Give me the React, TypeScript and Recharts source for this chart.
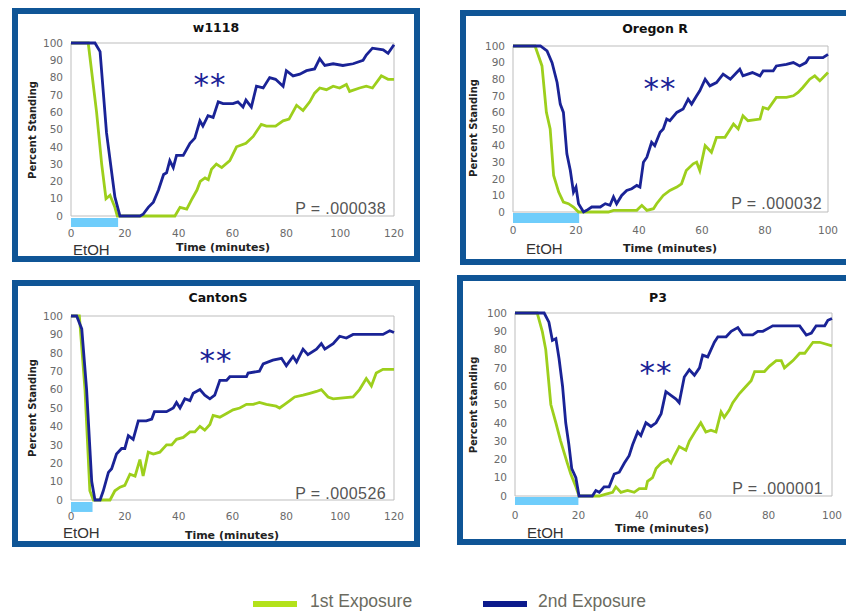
import React from 'react'
import { LineChart, Line, XAxis, YAxis, ReferenceArea } from 'recharts'

// [minutes, percent standing]
const w1118First: [number, number][] = [
  [0, 100], [6.4, 100], [9.5, 60], [11.4, 30], [13, 10], [14.5, 12], [16.3, 5], [17.2, 0], [38.6, 0], [40.5, 5],
  [43, 4], [45, 10], [46.8, 15], [48, 20], [49.8, 22], [51, 21], [52.2, 27], [54, 30], [56, 28], [59, 32],
  [61.5, 40], [65, 42], [67.7, 46], [70.7, 53], [72.6, 52], [76, 52], [78.8, 55], [81, 56], [83.8, 64], [86.2, 61],
  [88.7, 66], [90.5, 71], [92.4, 74], [94.9, 73], [97.4, 75], [99.8, 74], [102.3, 76], [103.5, 72], [107.2, 74],
  [109.7, 75], [112, 74], [115.3, 81], [117.8, 79], [120, 79],
]
const w1118Second: [number, number][] = [
  [0, 100], [8.9, 100], [10.8, 95], [13.2, 48], [16.3, 11], [18.2, 0], [25.6, 0], [26.8, 1], [28.7, 5], [30.6, 8],
  [32.5, 15], [34.4, 24], [35.5, 25], [36.7, 32], [38, 28], [39.2, 35], [41.7, 35], [44.2, 42], [46, 45], [47.9, 55],
  [49, 52], [50.9, 58], [52.8, 57], [54.7, 66], [56.5, 65], [60.2, 65], [62, 66], [63.9, 63], [65, 67], [67, 63],
  [68.9, 75], [71.4, 74], [73.8, 80], [76, 79], [78.8, 75], [80, 84], [82.5, 81], [85, 82], [87.5, 84], [90.5, 85],
  [92.4, 91], [94.3, 87], [97.4, 88], [101, 87], [104.8, 88], [108.5, 90], [109.7, 93], [112, 97], [116, 96],
  [117.8, 94], [120, 99],
]

const oregonFirst: [number, number][] = [
  [0, 100], [7, 100], [9.2, 88], [10.6, 60], [11.8, 50], [12.9, 22], [14.5, 12], [16, 6], [17.6, 5], [19.2, 3],
  [20.8, 0], [30.3, 0], [31.9, 1], [34, 1], [39.3, 1], [40.9, 4], [42.5, 1], [44.6, 2], [45.6, 5], [47.7, 10],
  [49.8, 13], [52, 15], [53.5, 17], [55, 25], [57.2, 29], [58.3, 30], [59.3, 25], [61, 40], [63, 36], [64.6, 45],
  [67.3, 45], [69, 50], [70, 53], [71.5, 50], [73, 58], [74.6, 55], [78.4, 56], [79.4, 63], [81, 62], [83.6, 69],
  [86.8, 69], [89, 70], [90.5, 72], [92, 75], [94.2, 80], [95.8, 82], [97.4, 79], [100, 84],
]
const oregonSecond: [number, number][] = [
  [0, 100], [8.7, 100], [10.8, 97], [12.4, 90], [14, 78], [15, 65], [16, 60], [17.1, 35], [18.2, 25], [19.2, 12],
  [20, 15], [20.8, 5], [22.4, 0], [23.4, 1], [25, 3], [27.7, 3], [29.3, 5], [30.8, 4], [31.9, 9], [32.9, 5],
  [34.5, 10], [36.1, 13], [37.7, 14], [39.3, 16], [40.3, 15], [41.4, 30], [42.5, 33], [44, 42], [45, 40],
  [46.7, 48], [47.7, 50], [48.8, 56], [49.8, 55], [52, 60], [54, 62], [55.6, 68], [56.7, 65], [58.3, 70],
  [59.3, 73], [61, 80], [62.5, 76], [64.6, 78], [66.7, 83], [69, 80], [72, 86], [73, 82], [76, 84], [78.4, 82],
  [79.4, 85], [82.6, 85], [83.6, 88], [86.8, 89], [89, 90], [91, 88], [93, 90], [94, 93], [98.4, 93], [100, 95],
]

const cantonFirst: [number, number][] = [
  [0, 100], [3.1, 100], [5.2, 60], [7, 5], [8.3, 0], [14.5, 0], [16.3, 5], [18.2, 7], [20, 8], [21.9, 14],
  [23.8, 13], [25.6, 22], [26.8, 13], [28.7, 26], [30.6, 25], [33, 26], [35.5, 30], [37.4, 30], [39.2, 33],
  [41.7, 34], [44.2, 37], [46, 37], [47.9, 40], [49.7, 38], [51.6, 41], [52.8, 46], [55.3, 45], [57.8, 47],
  [60.2, 49], [62.7, 50], [65.2, 52], [67.7, 52], [70, 53], [72.6, 52], [76.2, 51], [77.5, 50], [79.4, 52],
  [81.3, 54], [83.1, 56], [86.2, 57], [88.7, 58], [91.2, 59], [93, 60], [95.5, 56], [97.4, 55], [104.8, 56],
  [107.2, 60], [109.7, 66], [111.6, 62], [113.4, 69], [115.9, 71], [120, 71],
]
const cantonSecond: [number, number][] = [
  [0, 100], [2.1, 100], [4, 93], [5.8, 60], [7.7, 10], [8.9, 0], [10.8, 0], [12, 5], [13.9, 15], [15.1, 17],
  [16.9, 25], [18.8, 28], [20, 28], [21.3, 35], [23.1, 33], [25, 43], [28, 43], [30, 44], [31, 48], [33, 48],
  [35.5, 48], [38, 50], [39.2, 53], [40.5, 50], [42.3, 55], [44.2, 54], [45.4, 58], [47.9, 60], [49.7, 57],
  [51.6, 55], [53.4, 57], [55.3, 65], [57.8, 65], [59, 67], [65.2, 67], [65.8, 69], [70, 70], [71.4, 74],
  [75, 76], [78.2, 77], [80, 73], [82.5, 78], [83.8, 75], [86.2, 82], [88, 79], [91.2, 82], [93, 85], [94.3, 82],
  [97.4, 85], [99.8, 89], [102.3, 88], [104.8, 90], [115.9, 90], [118.4, 92], [120, 91],
]

const p3First: [number, number][] = [
  [0, 100], [7, 100], [8.6, 90], [9.7, 80], [11.3, 50], [12.9, 40], [14.4, 30], [16.5, 18], [17.6, 12],
  [19.2, 5], [20.2, 0], [26.6, 0], [28.7, 1], [30.8, 2], [31.8, 5], [33.4, 2], [35.5, 3], [37.6, 2], [39.2, 4],
  [41.3, 4], [41.8, 8], [43.4, 10], [44.5, 15], [46.1, 18], [48.2, 20], [49.2, 18], [50.3, 22], [51.8, 27],
  [53.9, 25], [55, 30], [57.1, 36], [58.6, 40], [60.2, 35], [61.8, 36], [63.4, 35], [65, 46], [66, 43],
  [67.6, 47], [68.7, 51], [70.8, 56], [72.9, 60], [74.5, 63], [75.6, 68], [78.7, 68], [80.3, 71], [82.4, 74],
  [84, 74], [85, 70], [87.7, 74], [89.8, 78], [91.4, 78], [94, 84], [96.1, 84], [100, 82],
]
const p3Second: [number, number][] = [
  [0, 100], [9.2, 100], [10.7, 95], [11.8, 85], [12.9, 86], [13.9, 75], [15, 60], [16, 40], [17, 28], [17.9, 15],
  [19.2, 10], [20.2, 0], [24.4, 0], [25.5, 3], [26.6, 2], [28.1, 5], [29.7, 5], [31.3, 12], [32.9, 13],
  [34.5, 18], [36, 22], [37.1, 28], [38.7, 35], [39.7, 33], [41.3, 40], [42.9, 38], [44.5, 40], [46.1, 45],
  [47.6, 57], [49.2, 55], [50.8, 53], [51.8, 51], [53.4, 65], [55, 69], [56.6, 66], [58.2, 70], [59.2, 77],
  [60.8, 76], [62.9, 84], [64, 87], [66.6, 87], [68.2, 90], [70.3, 92], [71.9, 88], [75, 88], [76.6, 90],
  [78.2, 90], [80.3, 92], [81.3, 93], [89.8, 93], [91.9, 88], [93.5, 89], [95, 93], [97.7, 93], [98.7, 96],
  [100, 97],
]

const etohEnds = [17.5, 21, 8, 20]
const pValues = ['P = .000038', 'P = .000032', 'P = .000526', 'P = .000001']
const titles = ['w1118', 'Oregon R', 'CantonS', 'P3']
const yTicks = [0, 10, 20, 30, 40, 50, 60, 70, 80, 90, 100]
const xTicks120 = [0, 20, 40, 60, 80, 100, 120]
const xTicks100 = [0, 20, 40, 60, 80, 100]

const GREEN = '#9dcf1c'
const BLUE = '#1a2396'
const FRAME = '#0f5596'
const BAR = '#6fcdfb'
const YW = 40
const XH = 30

const toPts = (arr: [number, number][]) => arr.map(([t, v]) => ({ t, v }))

const panels = [
  {
    first: w1118First, second: w1118Second, xMax: 120, xTicks: xTicks120, ylabel: 'Percent Standing',
    frame: { x: 12, y: 8, w: 408, h: 254 }, plot: { l: 71, t: 43, r: 394, b: 216 }, bar: [-1.2, -6.4],
    titleAt: [216, 27], ylabelAt: [32, 130], xlabelAt: [223, 247], etohAt: [73, 249], starAt: [210, 79], pAt: [386, 208], xTickY: 233,
  },
  {
    first: oregonFirst, second: oregonSecond, xMax: 100, xTicks: xTicks100, ylabel: 'Percent Standing',
    frame: { x: 460, y: 10, w: 400, h: 255 }, plot: { l: 513, t: 46, r: 828, b: 212 }, bar: [-0.6, -6.6],
    titleAt: [655, 28], ylabelAt: [473, 128], xlabelAt: [670, 248], etohAt: [526, 248], starAt: [660, 83], pAt: [822, 203], xTickY: 230,
  },
  {
    first: cantonFirst, second: cantonSecond, xMax: 120, xTicks: xTicks120, ylabel: 'Percent Standing',
    frame: { x: 12, y: 280, w: 408, h: 267 }, plot: { l: 71, t: 316, r: 394, b: 500 }, bar: [-1.1, -6.5],
    titleAt: [218, 297], ylabelAt: [32, 408], xlabelAt: [232, 535], etohAt: [63, 532], starAt: [216, 355], pAt: [386, 493], xTickY: 516,
  },
  {
    first: p3First, second: p3Second, xMax: 100, xTicks: xTicks100, ylabel: 'Percent standing',
    frame: { x: 457, y: 275, w: 400, h: 270 }, plot: { l: 515, t: 313, r: 832, b: 496 }, bar: [-0.55, -4.9],
    titleAt: [658, 297], ylabelAt: [473, 405], xlabelAt: [662, 528], etohAt: [527, 532], starAt: [656, 367], pAt: [823, 488], xTickY: 515,
  },
]

const tickStyle = { fontSize: 10.5, fill: '#6a6a6a', fontFamily: 'DejaVu Sans' }

function Panel({ cfg, i }: { cfg: (typeof panels)[number]; i: number }) {
  const { frame, plot } = cfg
  const margin = {
    top: plot.t - frame.y,
    left: plot.l - frame.x - YW,
    right: frame.x + frame.w - plot.r,
    bottom: frame.y + frame.h - plot.b - XH,
  }
  return (
    <>
      <div
        style={{
          position: 'absolute', left: frame.x, top: frame.y, width: frame.w, height: frame.h,
          boxSizing: 'border-box', border: `6px solid ${FRAME}`, background: '#fff',
        }}
      />
      <div style={{ position: 'absolute', left: frame.x, top: frame.y }}>
        <LineChart width={frame.w} height={frame.h} margin={margin}>
          <XAxis
            type="number" dataKey="t" domain={[0, cfg.xMax]} ticks={cfg.xTicks} allowDuplicatedCategory={false}
            axisLine={false} tickLine={false} tickSize={0} tickMargin={cfg.xTickY - plot.b - 3.5}
            height={XH} tick={tickStyle} interval={0}
          />
          <YAxis
            type="number" domain={[0, 100]} ticks={yTicks} axisLine={false} tickLine={false}
            tickSize={0} tickMargin={8} width={YW} tick={tickStyle} interval={0}
          />
          <ReferenceArea x1={0} x2={cfg.xMax} y1={0} y2={100} fill="none" stroke="#bdbdbd" strokeWidth={1} />
          <ReferenceArea
            x1={0} x2={etohEnds[i]} y1={cfg.bar[0]} y2={cfg.bar[1]} ifOverflow="visible"
            fill={BAR} fillOpacity={1} stroke="none"
          />
          <Line
            data={toPts(cfg.first)} dataKey="v" type="linear" stroke={GREEN} strokeWidth={2.8}
            dot={false} isAnimationActive={false}
          />
          <Line
            data={toPts(cfg.second)} dataKey="v" type="linear" stroke={BLUE} strokeWidth={2.8}
            dot={false} isAnimationActive={false}
          />
        </LineChart>
      </div>
    </>
  )
}

export default function App() {
  return (
    <div
      style={{
        position: 'absolute', left: 0, top: 0, width: 846, height: 612, overflow: 'hidden', background: '#fff',
      }}
    >
      {panels.map((cfg, i) => (
        <Panel key={i} cfg={cfg} i={i} />
      ))}
      <svg width={846} height={612} style={{ position: 'absolute', left: 0, top: 0, pointerEvents: 'none' }}>
        {panels.map((cfg, i) => (
          <g key={i}>
            <text x={cfg.titleAt[0]} y={cfg.titleAt[1]} textAnchor="middle" dominantBaseline="central"
              fontFamily="DejaVu Sans" fontWeight="bold" fontSize={12.5} fill="#111">{titles[i]}</text>
            <text x={cfg.ylabelAt[0]} y={cfg.ylabelAt[1]} textAnchor="middle" dominantBaseline="central"
              transform={`rotate(-90 ${cfg.ylabelAt[0]} ${cfg.ylabelAt[1]})`}
              fontFamily="DejaVu Sans" fontWeight="bold" fontSize={10} fill="#222">{cfg.ylabel}</text>
            <text x={cfg.xlabelAt[0]} y={cfg.xlabelAt[1]} textAnchor="middle" dominantBaseline="central"
              fontFamily="DejaVu Sans" fontWeight="bold" fontSize={11} fill="#222">Time (minutes)</text>
            <text x={cfg.etohAt[0]} y={cfg.etohAt[1]} dominantBaseline="central"
              fontFamily="Liberation Sans" fontSize={15} fill="#333">EtOH</text>
            <text x={cfg.starAt[0]} y={cfg.starAt[1] + 16} textAnchor="middle"
              fontFamily="DejaVu Sans" fontSize={31} letterSpacing={1} fill={BLUE}>**</text>
            <text x={cfg.pAt[0]} y={cfg.pAt[1]} textAnchor="end" dominantBaseline="central"
              fontFamily="Liberation Sans" fontSize={16} letterSpacing={0.4} fill="#555">{pValues[i]}</text>
          </g>
        ))}
        <rect x={253} y={601} width={44} height={6} fill="#b3e21a" />
        <text x={310} y={601} dominantBaseline="central" fontFamily="Liberation Sans" fontSize={17.5} fill="#6b6b60">
          1st Exposure
        </text>
        <rect x={483} y={601} width={44} height={6} fill="#0c1a8c" />
        <text x={538} y={601} dominantBaseline="central" fontFamily="Liberation Sans" fontSize={17.5} fill="#6b6b60">
          2nd Exposure
        </text>
      </svg>
    </div>
  )
}
